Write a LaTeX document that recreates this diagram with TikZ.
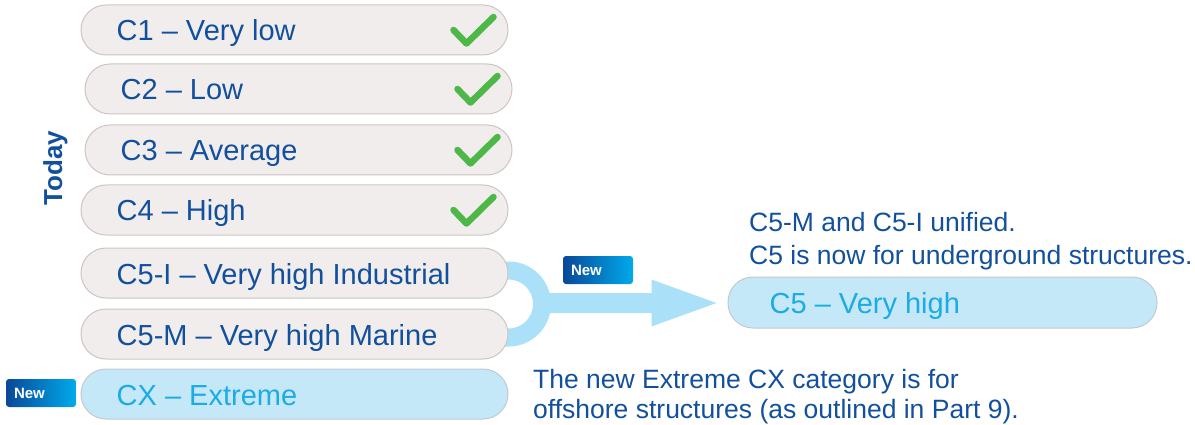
\documentclass[tikz,border=0pt]{standalone}
\usepackage{fontspec}
\setmainfont{Liberation Sans}
\usetikzlibrary{calc,backgrounds}

\definecolor{txtblue}{RGB}{18,80,158}
\definecolor{txtcyan}{RGB}{27,172,228}
\definecolor{pillfill}{RGB}{241,237,236}
\definecolor{pillline}{RGB}{205,197,194}
\definecolor{newfill}{RGB}{197,232,248}
\definecolor{newline}{RGB}{192,202,208}
\definecolor{flowblue}{RGB}{171,224,249}
\definecolor{okgreen}{RGB}{77,184,72}
\definecolor{badgedark}{RGB}{10,72,152}
\definecolor{badgelight}{RGB}{0,170,235}

\tikzset{
  pill/.style={draw=pillline, fill=pillfill, line width=1pt, rounded corners=25pt,
    minimum width=427pt, minimum height=50pt, inner sep=0pt},
  newpill/.style={pill, draw=newline, fill=newfill},
  pilltext/.style={anchor=base west, inner sep=0pt, text=txtblue,
    font=\fontsize{29}{34}\selectfont},
  newtext/.style={pilltext, text=txtcyan},
  note/.style={anchor=base west, inner sep=0pt, text=txtblue, align=left,
    font=\fontsize{26.5}{32}\selectfont},
  tick/.style={draw=okgreen, line width=6.5pt, line cap=round, line join=round},
  badge/.style={rounded corners=3pt, left color=badgedark, right color=badgelight,
    minimum height=28pt, inner xsep=8pt, inner ysep=0pt, text width=54pt, align=left,
    text=white, font=\bfseries\fontsize{15}{18}\selectfont},
  flow/.style={fill=flowblue, draw=none}
}

\begin{document}
\begin{tikzpicture}[x=1pt,y=-1pt]
\useasboundingbox (0,0) rectangle (1195,425);

% category pills
\node[pill] (c1) at (294.5,30) {};
\node[pill] (c2) at (298.5,89) {};
\node[pill] (c3) at (298.5,150) {};
\node[pill] (c4) at (294.5,210) {};
\node[pill] (c5i) at (294.5,273) {};
\node[pill] (c5m) at (294.5,334) {};
\node[newpill] (cx) at (294.5,394) {};
\node[newpill, minimum width=429pt, minimum height=51pt] (c5) at (942.5,302.5) {};

% pill labels
\node[pilltext] (c1t) at ($(c1.west)+(36,11)$) {C1 – Very low};
\node[pilltext] (c2t) at ($(c2.west)+(36,11)$) {C2 – Low};
\node[pilltext] (c3t) at ($(c3.west)+(36,11)$) {C3 – Average};
\node[pilltext] (c4t) at ($(c4.west)+(36,11)$) {C4 – High};
\node[pilltext] (c5it) at ($(c5i.west)+(36,11)$) {C5-I – Very high Industrial};
\node[pilltext] (c5mt) at ($(c5m.west)+(36,11)$) {C5-M – Very high Marine};
\node[newtext] (cxt) at ($(cx.west)+(36,11)$) {CX – Extreme};
\node[newtext] (c5t) at ($(c5.west)+(42,10.5)$) {C5 – Very high};

% check marks
\foreach \p in {c1,c2,c3,c4}{
  \draw[tick] ($(\p.east)+(-55,0)$) -- ($(\p.east)+(-42,13.5)$) -- ($(\p.east)+(-15,-13)$);
}

% merge bracket and arrow, behind the pills
\begin{scope}[on background layer]
  \coordinate (bt) at ($(c5i.east)+(-20,-2.5)$);
  \coordinate (bb) at ($(c5m.east)+(-20,3.5)$);
  \draw[flowblue, line width=18pt]
    (bt) -- ++(20,0) arc[start angle=-90, end angle=90, radius=33.5] -- (bb);
  \coordinate (split) at (540,303);
  \coordinate (tip) at ($(c5.west)+(-11,0)$);
  \fill[flow] ($(split)+(0,-10)$) -- ($(tip|-split)+(-65,-10)$) -- ($(tip|-split)+(-65,-23.5)$)
    -- (tip|-split) -- ($(tip|-split)+(-65,23.5)$) -- ($(tip|-split)+(-65,10)$)
    -- ($(split)+(0,10)$) -- cycle;
\end{scope}

% badges
\node[badge] (new1) at (598,270) {New};
\node[badge] (new2) at (41,393) {New};

% side title
\node[rotate=90, anchor=base, inner sep=0pt, text=txtblue,
  font=\bfseries\fontsize{26}{30}\selectfont] (today) at (62,168) {Today};

% notes
\node[note] (n1) at (749,232) {C5-M and C5-I unified.};
\node[note] (n2) at (749,264) {C5 is now for underground structures.};
\node[note] (n3) at (533,388) {The new Extreme CX category is for};
\node[note] (n4) at (533,418) {offshore structures (as outlined in Part 9).};
\end{tikzpicture}
\end{document}
